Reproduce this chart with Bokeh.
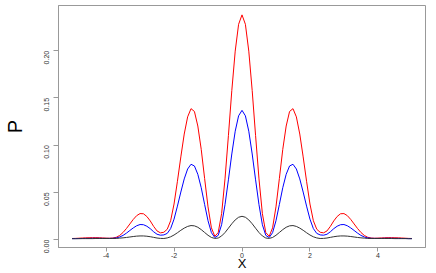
import math
from bokeh.plotting import figure
from bokeh.models import Range1d, FixedTicker
from bokeh.embed import file_html
from bokeh.resources import INLINE

x_vals = [-5.0, -4.9, -4.8, -4.7, -4.6, -4.5, -4.4, -4.3, -4.2, -4.1,
          -4.0, -3.9, -3.8, -3.7, -3.6, -3.5, -3.4, -3.3, -3.2, -3.1,
          -3.0, -2.9, -2.8, -2.7, -2.6, -2.5, -2.4, -2.3, -2.2, -2.1,
          -2.0, -1.9, -1.8, -1.7, -1.6, -1.5, -1.4, -1.3, -1.2, -1.1,
          -1.0, -0.9, -0.8, -0.7, -0.6, -0.5, -0.4, -0.3, -0.2, -0.1,
          0.0,
          0.1, 0.2, 0.3, 0.4, 0.5, 0.6, 0.7, 0.8, 0.9, 1.0,
          1.1, 1.2, 1.3, 1.4, 1.5, 1.6, 1.7, 1.8, 1.9, 2.0,
          2.1, 2.2, 2.3, 2.4, 2.5, 2.6, 2.7, 2.8, 2.9, 3.0,
          3.1, 3.2, 3.3, 3.4, 3.5, 3.6, 3.7, 3.8, 3.9, 4.0,
          4.1, 4.2, 4.3, 4.4, 4.5, 4.6, 4.7, 4.8, 4.9, 5.0]

p_red = [0.0012, 0.0013, 0.0015, 0.0017, 0.0019, 0.0020, 0.0021, 0.0021, 0.0020, 0.0018,
         0.0016, 0.0015, 0.0017, 0.0025, 0.0044, 0.0076, 0.0118, 0.0166, 0.0214, 0.0254,
         0.0276, 0.0274, 0.0245, 0.0198, 0.0140, 0.0092, 0.0072, 0.0078, 0.0110, 0.0200,
         0.0377, 0.0618, 0.0876, 0.1118, 0.1300, 0.1387, 0.1357, 0.1203, 0.0956, 0.0648,
         0.0347, 0.0125, 0.0035, 0.0075, 0.0275, 0.0643, 0.1101, 0.1578, 0.1996, 0.2280,
         0.2380,
         0.2280, 0.1996, 0.1578, 0.1101, 0.0643, 0.0275, 0.0075, 0.0035, 0.0125, 0.0347,
         0.0648, 0.0956, 0.1203, 0.1357, 0.1387, 0.1300, 0.1118, 0.0876, 0.0618, 0.0377,
         0.0200, 0.0110, 0.0078, 0.0072, 0.0092, 0.0140, 0.0198, 0.0245, 0.0274, 0.0276,
         0.0254, 0.0214, 0.0166, 0.0118, 0.0076, 0.0044, 0.0025, 0.0017, 0.0015, 0.0016,
         0.0018, 0.0020, 0.0021, 0.0021, 0.0020, 0.0019, 0.0017, 0.0015, 0.0013, 0.0012]

p_blue = [0.0011, 0.0011, 0.0012, 0.0012, 0.0013, 0.0013, 0.0014, 0.0014, 0.0014, 0.0013,
          0.0013, 0.0013, 0.0014, 0.0018, 0.0028, 0.0045, 0.0069, 0.0097, 0.0124, 0.0147,
          0.0160, 0.0158, 0.0142, 0.0116, 0.0083, 0.0057, 0.0047, 0.0050, 0.0066, 0.0117,
          0.0217, 0.0355, 0.0504, 0.0643, 0.0748, 0.0798, 0.0780, 0.0692, 0.0550, 0.0373,
          0.0200, 0.0074, 0.0022, 0.0045, 0.0158, 0.0370, 0.0633, 0.0907, 0.1148, 0.1311,
          0.1369,
          0.1311, 0.1148, 0.0907, 0.0633, 0.0370, 0.0158, 0.0045, 0.0022, 0.0074, 0.0200,
          0.0373, 0.0550, 0.0692, 0.0780, 0.0798, 0.0748, 0.0643, 0.0504, 0.0355, 0.0217,
          0.0117, 0.0066, 0.0050, 0.0047, 0.0057, 0.0083, 0.0116, 0.0142, 0.0158, 0.0160,
          0.0147, 0.0124, 0.0097, 0.0069, 0.0045, 0.0028, 0.0018, 0.0014, 0.0013, 0.0013,
          0.0013, 0.0014, 0.0014, 0.0014, 0.0013, 0.0013, 0.0012, 0.0012, 0.0011, 0.0011]

p_black = [0.0010, 0.0010, 0.0010, 0.0011, 0.0011, 0.0011, 0.0011, 0.0012, 0.0012, 0.0012,
           0.0012, 0.0012, 0.0012, 0.0013, 0.0016, 0.0019, 0.0023, 0.0028, 0.0033, 0.0037,
           0.0039, 0.0039, 0.0036, 0.0031, 0.0024, 0.0017, 0.0013, 0.0012, 0.0018, 0.0030,
           0.0049, 0.0073, 0.0099, 0.0122, 0.0140, 0.0149, 0.0146, 0.0131, 0.0106, 0.0076,
           0.0046, 0.0023, 0.0013, 0.0017, 0.0039, 0.0075, 0.0121, 0.0168, 0.0209, 0.0237,
           0.0247,
           0.0237, 0.0209, 0.0168, 0.0121, 0.0075, 0.0039, 0.0017, 0.0013, 0.0023, 0.0046,
           0.0076, 0.0106, 0.0131, 0.0146, 0.0149, 0.0140, 0.0122, 0.0099, 0.0073, 0.0049,
           0.0030, 0.0018, 0.0012, 0.0013, 0.0017, 0.0024, 0.0031, 0.0036, 0.0039, 0.0039,
           0.0037, 0.0033, 0.0028, 0.0023, 0.0019, 0.0016, 0.0013, 0.0012, 0.0012, 0.0012,
           0.0012, 0.0012, 0.0012, 0.0012, 0.0011, 0.0011, 0.0011, 0.0011, 0.0010, 0.0010]

x_ticks = [-4, -2, 0, 2, 4]
x_tick_labels = ["-4", "-2", "0", "2", "4"]
y_ticks = [0.0, 0.05, 0.10, 0.15, 0.20]
y_tick_labels = ["0.00", "0.05", "0.10", "0.15", "0.20"]
x_title = "X"
y_title = "P"

FONT = "Liberation Sans"
FRAME = "#999999"

p = figure(width=436, height=273, output_backend="svg", toolbar_location=None,
           x_range=Range1d(-5.4, 5.4), y_range=Range1d(-0.00833, 0.24792),
           min_border_left=56, min_border_right=11, min_border_top=5,
           min_border_bottom=22, background_fill_color="white",
           border_fill_color="white")
p.title.visible = False
p.xgrid.visible = False
p.ygrid.visible = False
p.outline_line_color = FRAME
p.outline_line_width = 1

for ax in (p.xaxis[0], p.yaxis[0]):
    ax.axis_line_color = FRAME
    ax.major_tick_line_color = FRAME
    ax.minor_tick_line_color = None
    ax.major_tick_in = 0
    ax.major_label_text_font = FONT
    ax.major_label_text_font_size = "7px"
    ax.major_label_text_color = "#333333"
    ax.axis_label_text_font = FONT
    ax.axis_label_text_font_style = "normal"
    ax.axis_label_text_color = "black"

p.xaxis.ticker = FixedTicker(ticks=x_ticks)
p.xaxis.major_label_overrides = dict(zip(x_ticks, x_tick_labels))
p.xaxis.major_tick_out = 4
p.xaxis.major_label_standoff = 1
p.xaxis.axis_label = x_title
p.xaxis.axis_label_text_font_size = "13px"
p.xaxis.axis_label_standoff = -5

p.yaxis.ticker = FixedTicker(ticks=y_ticks)
p.yaxis.major_label_overrides = dict(zip(y_ticks, y_tick_labels))
p.yaxis.major_label_orientation = math.pi / 2
p.yaxis.major_tick_out = 5
p.yaxis.major_label_standoff = 7
p.yaxis.axis_label = y_title
p.yaxis.axis_label_text_font_size = "20px"
p.yaxis.axis_label_standoff = 13

p.line(x_vals, p_red, line_color="#ff0000", line_width=1)
p.line(x_vals, p_blue, line_color="#0000ff", line_width=1)
p.line(x_vals, p_black, line_color="#333333", line_width=1)

open("out.html", "w").write(file_html(p, INLINE))
